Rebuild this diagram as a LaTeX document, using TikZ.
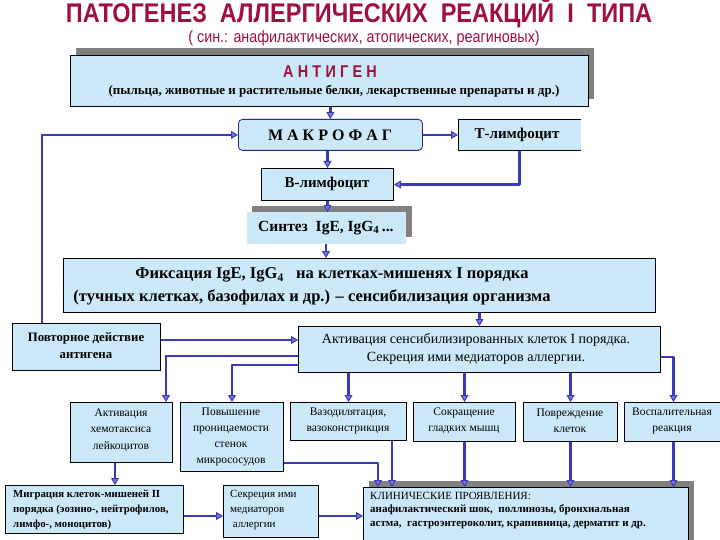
\documentclass[tikz,border=0pt]{standalone}
\usepackage{fontspec}
\setmainfont{Liberation Serif}
\newfontfamily\titlefont[FakeStretch=0.87]{Liberation Sans}
\newfontfamily\subfont[FakeStretch=0.87]{Liberation Sans}
\newfontfamily\spacedfont[FakeStretch=0.85,LetterSpace=25]{Liberation Sans}
\usetikzlibrary{arrows.meta}
\definecolor{boxfill}{HTML}{CCE9FA}
\definecolor{arr}{HTML}{3A3AB8}
\definecolor{arrlight}{HTML}{7A7ADC}
\definecolor{crimson}{HTML}{A0103F}
\definecolor{shadowgray}{HTML}{808080}
\tikzset{
  box/.style={draw=black, line width=1pt, fill=boxfill, inner sep=0pt, anchor=north west},
  conn/.style={draw=arr, line width=2.6pt, line join=round,
     -{Triangle[length=7pt,width=8pt,line width=1pt,fill=arrlight]}},
  txt/.style={inner sep=0pt, text=black},
  shadowbox/.style={fill=shadowgray}
}
\begin{document}
\begin{tikzpicture}[x=1pt,y=-1pt]
\useasboundingbox (0,0) rectangle (720,540);
\fill[white] (0,0) rectangle (720,540);
\clip (0,0) rectangle (720,540);

% title
\node[txt, text=crimson, font=\titlefont\bfseries\fontsize{27}{27}\selectfont] (title) at (359,13)
  {ПАТОГЕНЕЗ\ \ АЛЛЕРГИЧЕСКИХ\ \ РЕАКЦИЙ\ \ I\ \ ТИПА};
\node[txt, text=crimson, font=\subfont\fontsize{16.5}{16.5}\selectfont] (subtitle) at (364,38)
  {( син.: анафилактических, атопических, реагиновых)};

% shadows
\fill[shadowbox] (76,48) rectangle (594,99);
\fill[shadowbox] (252,206) rectangle (412,237);
\fill[shadowbox] (369,481) rectangle (694,545);

% boxes
\node[box, minimum width=518, minimum height=51] (antigen) at (70,55) {};
\node[box, draw=arr!70!black, line width=0.8pt, rounded corners=4pt, minimum width=184, minimum height=31] (macro) at (238,119) {};
\node[box, draw=none, minimum width=122, minimum height=30] (tcell) at (458,120) {};
\draw[black, line width=1pt] (tcell.north east) -- (tcell.north west) -- (tcell.south west) -- (tcell.south east);
\node[box, minimum width=132, minimum height=32] (bcell) at (261,168) {};
\node[box, draw=none, minimum width=159, minimum height=31] (synth) at (246,212) {};
\node[box, minimum width=592, minimum height=54] (fix) at (63,258) {};
\node[box, minimum width=148, minimum height=47] (povt) at (12,323) {};
\node[box, minimum width=362, minimum height=46] (activ) at (298,326) {};
\node[box, minimum width=102, minimum height=60] (chem) at (70,402) {};
\node[box, minimum width=103, minimum height=69] (perm) at (180,402) {};
\node[box, minimum width=116, minimum height=38] (vaso) at (290,402) {};
\node[box, minimum width=102, minimum height=39] (smooth) at (413,402) {};
\node[box, minimum width=94, minimum height=39] (damage) at (523,402) {};
\node[box, minimum width=98, minimum height=39] (inflam) at (624,402) {};
\node[box, minimum width=178, minimum height=48] (migr) at (5,485) {};
\node[box, minimum width=95, minimum height=52] (secr) at (223,485) {};
\node[box, minimum width=325, minimum height=60] (clin) at (363,487) {};

% texts
\node[txt, text=crimson, font=\spacedfont\bfseries\fontsize{17}{17}\selectfont] (tAnt1) at (330,72) {АНТИГЕН};
\node[txt, font=\bfseries\fontsize{13}{13}\selectfont] (tAnt2) at (334,91)
  {(пыльца, животные и растительные белки, лекарственные препараты и др.)};
\node[txt, font=\bfseries\fontsize{16}{16}\selectfont] (tMacro) at (330,135) {М А К Р О Ф А Г};
\node[txt, font=\bfseries\fontsize{15}{15}\selectfont] (tT) at (517,135) {Т-лимфоцит};
\node[txt, font=\bfseries\fontsize{15}{15}\selectfont] (tB) at (327,184) {В-лимфоцит};
\node[txt, font=\bfseries\fontsize{15.5}{15.5}\selectfont, anchor=west] (tSyn) at (258,228) {Синтез\ \ IgE, IgG\textsubscript{4}\,...};
\node[txt, font=\bfseries\fontsize{16.5}{16.5}\selectfont] (tFix1) at (332,275)
  {Фиксация IgE, IgG\textsubscript{4}\ \ \ на клетках-мишенях I порядка};
\node[txt, font=\bfseries\fontsize{16.5}{16.5}\selectfont] (tFix2) at (312,297)
  {(тучных клетках, базофилах и др.) – сенсибилизация организма};
\node[txt, align=center, font=\bfseries\fontsize{12.8}{17}\selectfont] (tPovt) at (86,346)
  {Повторное действие\\антигена};
\node[txt, align=center, font=\fontsize{14}{18}\selectfont] (tActiv) at (476,349)
  {Активация сенсибилизированных клеток I порядка.\\Секреция ими медиаторов аллергии.};
\node[txt, align=center, font=\fontsize{11.5}{16.5}\selectfont] (tChem) at (121,430)
  {Активация\\хемотаксиса\\лейкоцитов};
\node[txt, align=center, font=\fontsize{11.5}{16.3}\selectfont] (tPerm) at (231,437)
  {Повышение\\проницаемости\\стенок\\микрососудов};
\node[txt, align=center, font=\fontsize{11.5}{16}\selectfont] (tVaso) at (348,421)
  {Вазодилятация,\\вазоконстрикция};
\node[txt, align=center, font=\fontsize{11.5}{16}\selectfont] (tSmooth) at (464,421)
  {Сокращение\\гладких мышц};
\node[txt, align=center, font=\fontsize{11.5}{16}\selectfont] (tDamage) at (570,421)
  {Повреждение\\клеток};
\node[txt, align=center, font=\fontsize{11.5}{16}\selectfont] (tInflam) at (672,421)
  {Воспалительная\\реакция};
\node[txt, align=left, anchor=west, font=\bfseries\fontsize{10.8}{15}\selectfont] (tMigr) at (13,510)
  {Миграция клеток-мишеней II\\порядка (эозино-, нейтрофилов,\\лимфо-, моноцитов)};
\node[txt, align=left, anchor=west, font=\fontsize{11}{15}\selectfont] (tSecr) at (230,510)
  {Секреция ими\\медиаторов\\\ аллергии};
\node[txt, align=left, anchor=north west, font=\fontsize{11}{13.5}\selectfont] (tClin) at (370,492)
  {КЛИНИЧЕСКИЕ ПРОЯВЛЕНИЯ:\\\textbf{анафилактический шок,\ \ поллинозы, бронхиальная}\\\textbf{астма,\ \ гастроэнтероколит, крапивница, дерматит и др.}};

% connectors
\draw[conn] (antigen.south -| macro.north) -- (macro.north);
\draw[conn] (macro.east) -- (macro.east -| tcell.west);
\draw[conn] (tcell.south) |- (bcell.east);
\draw[conn] (macro.south -| bcell.north) -- (bcell.north);
\draw[conn] (bcell.south) -- (bcell.south |- synth.north);
\draw[conn] (synth.south) -- (synth.south |- fix.north);
\draw[conn] (activ.north |- fix.south) -- (activ.north);
\draw[conn] ([xshift=30pt]povt.north west) |- (macro.west);
\draw[conn] (povt.east |- 0,340) -- (activ.west |- 0,340);
\draw[conn] (activ.west |- 0,356) -| ([xshift=-7pt]chem.north east);
\draw[conn] (activ.west |- 0,365) -| (perm.north);
\draw[conn] (vaso.north |- activ.south) -- (vaso.north);
\draw[conn] (smooth.north |- activ.south) -- (smooth.north);
\draw[conn] (damage.north |- activ.south) -- (damage.north);
\draw[conn] (activ.east |- 0,357) -| (inflam.north);
\draw[conn] (115,0 |- chem.south) -- (115,0 |- migr.north);
\draw[conn] (perm.east |- 0,463) -| (378,0 |- clin.north);
\draw[conn] (392,0 |- vaso.south) -- (392,0 |- clin.north);
\draw[conn] (smooth.south) -- (smooth.south |- clin.north);
\draw[conn] (damage.south) -- (damage.south |- clin.north);
\draw[conn] (inflam.south) -- (inflam.south |- clin.north);
\draw[conn] (migr.east |- 0,516) -- (secr.west |- 0,516);
\draw[conn] (secr.east |- 0,516) -- (clin.west |- 0,516);
\end{tikzpicture}
\end{document}
